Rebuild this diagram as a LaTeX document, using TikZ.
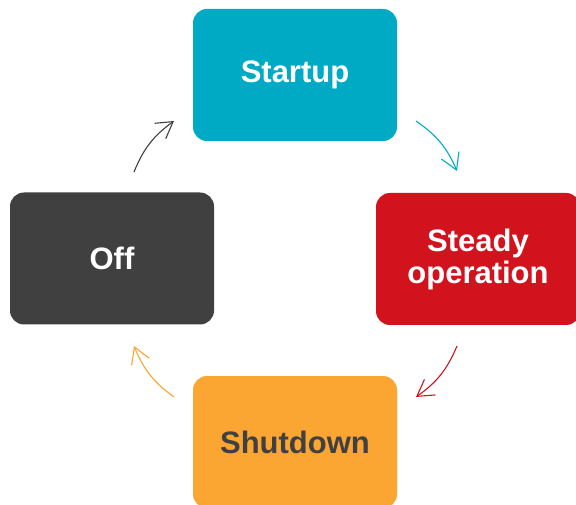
\documentclass[tikz,border=0pt]{standalone}
\usepackage{fontspec}
\setmainfont{Liberation Sans}
\usetikzlibrary{arrows.meta,positioning}
\definecolor{cteal}{HTML}{00AAC5}
\definecolor{cred}{HTML}{D2121C}
\definecolor{cdark}{HTML}{404040}
\definecolor{corange}{HTML}{FBA632}
\tikzset{
  phase/.style={rounded corners=14pt, minimum width=204pt, minimum height=132pt,
    inner sep=0pt, align=center, font=\fontsize{31}{32}\selectfont\bfseries, text=white},
  cycarrow/.style={line width=1.1pt, bend left=16,
    -{Straight Barb[length=16pt,width=19pt,line width=1.1pt]}}
}
\begin{document}
\begin{tikzpicture}[x=1pt,y=1pt]
  \useasboundingbox (0,0) rectangle (576,504);
  \clip (0,0) rectangle (576,504);
  % phase boxes (y measured upwards from the bottom edge)
  \node[phase, fill=cteal] (startup) at (295,429) {Startup};
  \node[phase, fill=cred, minimum width=204pt] (steady) at (478,245) {Steady\\operation};
  \node[phase, fill=cdark] (off) at (112,245.5) {Off};
  \node[phase, fill=corange, text=cdark] (shutdown) at (295,62) {Shutdown};
  % arrow end points
  \coordinate (a1s) at (134,332);
  \coordinate (a1e) at (174,383);
  \coordinate (a2s) at (416,383);
  \coordinate (a2e) at (457,333);
  \coordinate (a3s) at (457,158);
  \coordinate (a3e) at (416,107);
  \coordinate (a4s) at (174,107);
  \coordinate (a4e) at (134,158);
  % transitions between phases
  \draw[cycarrow, cdark] (a1s) to (a1e);
  \draw[cycarrow, cteal] (a2s) to (a2e);
  \draw[cycarrow, cred] (a3s) to (a3e);
  \draw[cycarrow, corange] (a4s) to (a4e);
\end{tikzpicture}
\end{document}
